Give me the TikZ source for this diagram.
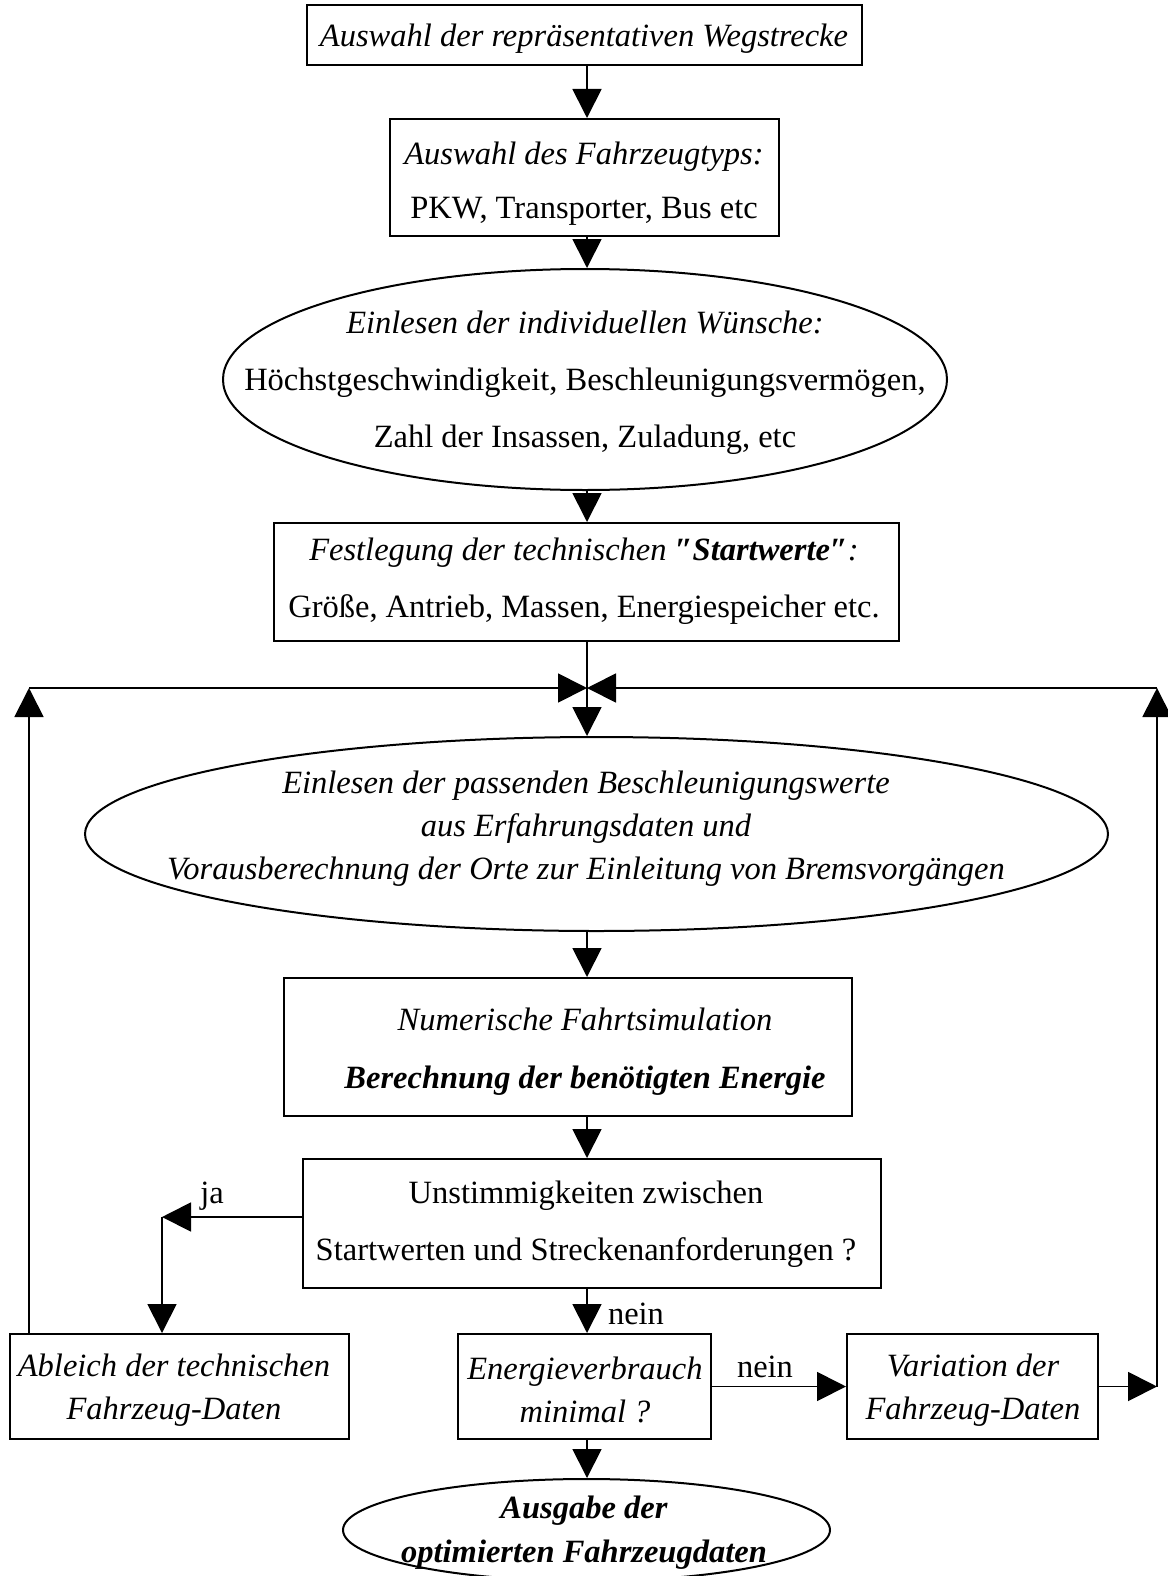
\documentclass[tikz,border=0pt]{standalone}
\usepackage{fontspec}
\setmainfont{Liberation Serif}
\usetikzlibrary{arrows.meta,shapes.geometric}
\begin{document}
\begin{tikzpicture}[x=1pt,y=-1pt,
  shp/.style={draw,line width=2pt,inner sep=0pt},
  box/.style={shp,rectangle},
  oval/.style={shp,ellipse},
  txt/.style={align=center,inner sep=0pt,font=\fontsize{32.5}{57}\selectfont},
  txtn/.style={align=center,inner sep=0pt,font=\fontsize{32.5}{43}\selectfont},
  arr/.style={line width=1.8pt,-{Triangle[width=29pt,length=29pt]}}]
\useasboundingbox (0,0) rectangle (1167,1576);

% shapes
\node[box,minimum width=555pt,minimum height=60pt] (b1) at (584.5,35) {};
\node[box,minimum width=389pt,minimum height=117pt] (b2) at (584.5,177.5) {};
\node[oval,minimum width=724pt,minimum height=221pt] (e1) at (585,379.5) {};
\node[box,minimum width=625pt,minimum height=118pt] (b4) at (586.5,582) {};
\node[oval,minimum width=1023pt,minimum height=194pt] (e2) at (596.5,834) {};
\node[box,minimum width=568pt,minimum height=138pt] (b6) at (568,1047) {};
\node[box,minimum width=578pt,minimum height=129pt] (b7) at (592,1223.5) {};
\node[box,minimum width=339pt,minimum height=105pt] (b8) at (179.5,1386.5) {};
\node[box,minimum width=253pt,minimum height=105pt] (b9) at (584.5,1386.5) {};
\node[box,minimum width=251pt,minimum height=105pt] (b10) at (972.5,1386.5) {};
\node[oval,minimum width=487pt,minimum height=102pt] (e3) at (586.5,1530) {};

% texts
\node[txt] (t1) at (584,39) {\itshape Auswahl der repräsentativen Wegstrecke};
\node[txt,font=\fontsize{32.5}{54}\selectfont] (t2) at (584,184) {\textit{Auswahl des Fahrzeugtyps:}\\PKW, Transporter, Bus etc};
\node[txt] (te1) at (585,383) {\textit{Einlesen der individuellen Wünsche:}\\Höchstgeschwindigkeit, Beschleunigungsvermögen,\\Zahl der Insassen, Zuladung, etc};
\node[txt] (t4) at (584,581) {\textit{Festlegung der technischen \textbf{″Startwerte″}:}\\Größe, Antrieb, Massen, Energiespeicher etc.};
\node[txtn] (te2) at (586,829) {\itshape Einlesen der passenden Beschleunigungswerte\\\itshape aus Erfahrungsdaten und\\\itshape Vorausberechnung der Orte zur Einleitung von Bremsvorgängen};
\node[txt,font=\fontsize{32.5}{58}\selectfont] (t6) at (585,1052) {\textit{Numerische Fahrtsimulation}\\\textbf{\textit{Berechnung der benötigten Energie}}};
\node[txt] (t7) at (586,1224) {Unstimmigkeiten zwischen\\Startwerten und Streckenanforderungen ?};
\node[txtn] (t8) at (174,1390) {\itshape Ableich der technischen\\\itshape Fahrzeug-Daten};
\node[txtn] (t9) at (585,1390) {\itshape Energieverbrauch\\\itshape minimal ?};
\node[txtn] (t10) at (973,1390) {\itshape Variation der\\\itshape Fahrzeug-Daten};
\node[txtn,font=\fontsize{32.5}{44}\selectfont\bfseries\itshape] (te3) at (584,1533) {Ausgabe der\\optimierten Fahrzeugdaten};

% labels
\node[txt] (lja) at (212,1196) {ja};
\node[txt] (ln1) at (636,1314) {nein};
\node[txt] (ln2) at (765,1367) {nein};

% helper coordinates
\coordinate (jn) at (587,688);
\coordinate (lx) at (29,688);
\coordinate (rx) at (1157,688);
\coordinate (ja) at (162,1217);

% connectors
\draw[arr] (b1.south -| jn) -- (b2.north -| jn);
\draw[arr] (b2.south -| jn) -- (e1.north -| jn);
\draw[arr] (e1.south -| jn) -- (b4.north -| jn);
\draw[arr] (b4.south -| jn) -- (e2.north -| jn);
\draw[arr] (e2.south -| jn) -- (b6.north -| jn);
\draw[arr] (b6.south -| jn) -- (b7.north -| jn);
\draw[arr] (b7.south -| jn) -- (b9.north -| jn);
\draw[arr] (b9.south -| jn) -- (e3.north -| jn);
\draw[arr] (b7.west |- ja) -- (ja);
\draw[arr] (ja) -- (ja |- b8.north);
\draw[arr] (b8.north -| lx) -- (lx);
\draw[arr] (lx) -- (jn);
\draw[arr] (b9.east) -- (b10.west);
\draw[arr] (b10.east) -- (b10.east -| rx);
\draw[arr] (b10.east -| rx) -- (rx);
\draw[arr] (rx) -- (jn);
\end{tikzpicture}
\end{document}
